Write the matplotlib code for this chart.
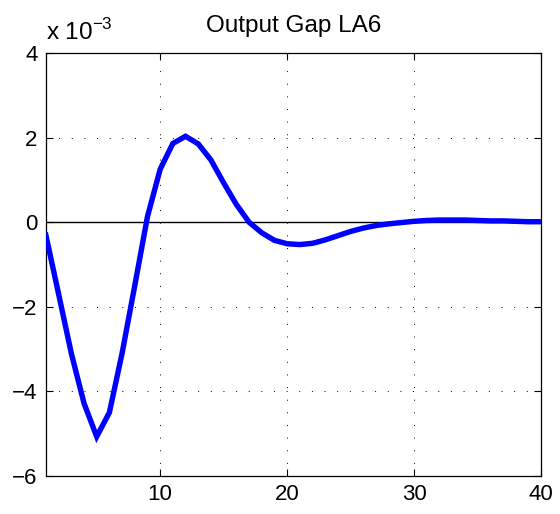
import matplotlib.pyplot as plt
import numpy as np

plt.rcParams['font.family'] = ['Liberation Sans', 'DejaVu Sans']

# horizon (periods) and output gap response, in units of 1e-3
periods = np.arange(1, 41)
gap_e3 = [-0.31, -1.7, -3.1, -4.28, -5.07, -4.5, -3.1, -1.5, 0.13, 1.25,
          1.86, 2.03, 1.85, 1.47, 0.93, 0.42, 0.0, -0.25, -0.43, -0.51,
          -0.53, -0.5, -0.42, -0.32, -0.22, -0.14, -0.08, -0.04, -0.01, 0.02,
          0.04, 0.05, 0.05, 0.05, 0.04, 0.03, 0.03, 0.02, 0.01, 0.01]
xticks = [10, 20, 30, 40]
yticks = [-6, -4, -2, 0, 2, 4]

fig = plt.figure(figsize=(5.6, 5.14), dpi=100)
ax = fig.add_axes([0.082, 0.074, 0.884, 0.823])

ax.axhline(0, color='black', lw=1.0, zorder=2)
ax.plot(periods, gap_e3, color='#0000ff', lw=3.9, solid_joinstyle='miter', zorder=3)

ax.set_xlim(1, 40)
ax.set_ylim(-6, 4)
ax.set_xticks(xticks)
ax.set_yticks(yticks)
ax.set_yticklabels(['\u22126', '\u22124', '\u22122', '0', '2', '4'])
ax.tick_params(direction='in', top=True, right=True, labelsize=16, length=5, width=0.8, pad=6)
ax.grid(True, color='black', linestyle=(0, (1, 12)), lw=0.7)
for s in ax.spines.values():
    s.set_linewidth(0.9)

ax.set_title('Output Gap LA6', fontsize=17.5, pad=15)
ax.text(0.0, 1.02, 'x 10$^{\\mathregular{-3}}$', transform=ax.transAxes,
        fontsize=17.5, ha='left', va='bottom')

fig.savefig('out.png', dpi=100)
